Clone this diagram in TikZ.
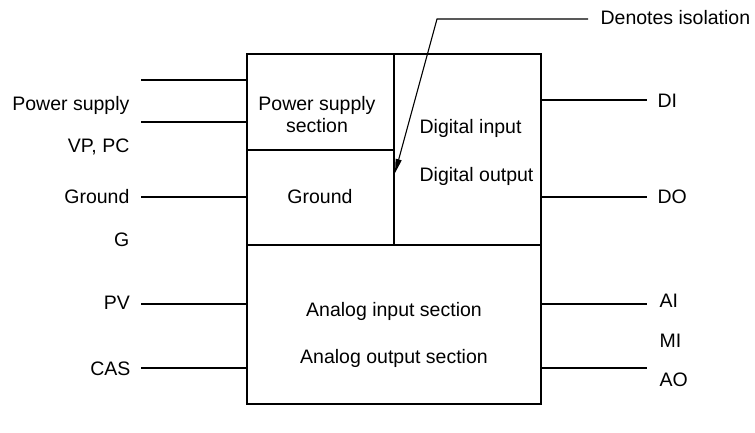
\documentclass[tikz,border=0pt]{standalone}
\usepackage{fontspec}
\setmainfont{Liberation Sans}
\usetikzlibrary{arrows.meta}
\begin{document}
\begin{tikzpicture}[x=1pt,y=-1pt,
  line width=1.2pt,
  sect/.style={draw, rectangle, inner sep=0pt, outer sep=0pt, line width=1.2pt},
  txt/.style={inner sep=0pt, font=\fontsize{19.5}{23}\selectfont},
  wire/.style={line width=1.2pt},
  isoarrow/.style={line width=1.1pt, -{Triangle[length=14pt,width=6pt]}}]
\useasboundingbox (0,0) rectangle (755,433);
% sections
\node[sect, minimum width=147pt, minimum height=96pt] (psec) at (320.5,102) {};
\node[sect, minimum width=147pt, minimum height=95pt] (gnd) at (320.5,197.5) {};
\node[sect, minimum width=147pt, minimum height=191pt] (dig) at (467.5,149.5) {};
\node[sect, minimum width=294pt, minimum height=159pt] (ana) at (394,324.5) {};
% texts inside
\node[txt, anchor=base] (t1) at (317,110.5) {Power supply};
\node[txt, anchor=base] (t2) at (317,133) {section};
\node[txt, anchor=base] (t3) at (320,204) {Ground};
\node[txt, anchor=base west] (t4) at (419,134) {Digital input};
\node[txt, anchor=base west] (t5) at (419,182) {Digital output};
\node[txt, anchor=base] (t6) at (394,316.5) {Analog input section};
\node[txt, anchor=base] (t7) at (394,363) {Analog output section};
% left labels
\node[txt, anchor=base east] (lps) at (130,110.7) {Power supply};
\node[txt, anchor=base east] (lvp) at (130,153) {VP, PC};
\node[txt, anchor=base east] (lgr) at (130,203.5) {Ground};
\node[txt, anchor=base east] (lg) at (130,246) {G};
\node[txt, anchor=base east] (lpv) at (130.5,309.5) {PV};
\node[txt, anchor=base east] (lcas) at (131,375.5) {CAS};
% right labels
\node[txt, anchor=base west] (rdi) at (657,108) {DI};
\node[txt, anchor=base west] (rdo) at (657,203.5) {DO};
\node[txt, anchor=base west] (rai) at (659,307) {AI};
\node[txt, anchor=base west] (rmi) at (659,347) {MI};
\node[txt, anchor=base west] (rao) at (659,386.5) {AO};
\node[txt, anchor=base west] (iso) at (600,24.5) {Denotes isolation};
% wire ends
\coordinate (l1) at (141,80);
\coordinate (l2) at (141,122);
\coordinate (l3) at (141,197);
\coordinate (l4) at (141,304);
\coordinate (l5) at (141,368);
\coordinate (r1) at (647,100);
\coordinate (r2) at (647,197);
\coordinate (r3) at (647,304);
\coordinate (r4) at (647,368);
\draw[wire] (l1) -- (l1 -| psec.west);
\draw[wire] (l2) -- (l2 -| psec.west);
\draw[wire] (l3) -- (l3 -| gnd.west);
\draw[wire] (l4) -- (l4 -| ana.west);
\draw[wire] (l5) -- (l5 -| ana.west);
\draw[wire] (dig.east |- r1) -- (r1);
\draw[wire] (dig.east |- r2) -- (r2);
\draw[wire] (ana.east |- r3) -- (r3);
\draw[wire] (ana.east |- r4) -- (r4);
% isolation pointer
\coordinate (i1) at (588,19);
\coordinate (i2) at (437,19);
\coordinate (tip) at (395,173);
\draw[isoarrow] (i1) -- (i2) -- (tip);
\end{tikzpicture}
\end{document}
